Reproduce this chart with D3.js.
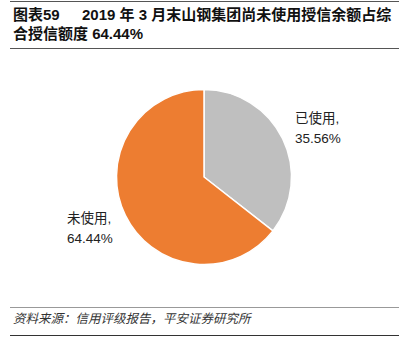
<!DOCTYPE html>
<html>
<head>
<meta charset="utf-8">
<script src="https://cdn.jsdelivr.net/npm/d3@7"></script>
<style>
  body { margin: 0; background: #fff; }
  text { font-family: "Liberation Sans", Arial, "Noto Sans CJK SC", sans-serif; }
</style>
</head>
<body>
<svg id="chart" width="417" height="353"></svg>
<script>
// data
var categories = ['已使用', '未使用'];
var shares = [35.56, 64.44];
var colors = ['#BFBFBF', '#ED7D31'];

var titleLine1 = ['图表59', '2019 年 3 月末山钢集团尚未使用授信余额占综'];
var titleLine2 = '合授信额度 64.44%';
var source = '资料来源：信用评级报告，平安证券研究所';

var svg = d3.select('#chart');

// header rules + title
svg.append('line').attr('x1', 10).attr('x2', 399).attr('y1', 1.5).attr('y2', 1.5)
    .attr('stroke', '#555').attr('stroke-width', 1);
svg.append('line').attr('x1', 10).attr('x2', 399).attr('y1', 48.5).attr('y2', 48.5)
    .attr('stroke', '#555').attr('stroke-width', 1);

var t1 = svg.append('text').attr('y', 20).attr('font-size', 15).attr('font-weight', 'bold').attr('fill', '#111');
t1.append('tspan').attr('x', 13).text(titleLine1[0]);
t1.append('tspan').attr('x', 82).text(titleLine1[1]);
svg.append('text').attr('x', 13).attr('y', 38.5).attr('font-size', 15).attr('font-weight', 'bold')
    .attr('fill', '#111').text(titleLine2);

// pie
var cx = 204, cy = 177, radius = 87.5;
var pie = d3.pie().sort(null).value(function(d) { return d; });
var arc = d3.arc().innerRadius(0).outerRadius(radius);
var arcs = pie(shares);

var g = svg.append('g').attr('transform', 'translate(' + cx + ',' + cy + ')');
g.selectAll('path.slice')
    .data(arcs)
    .enter()
    .append('path')
    .attr('class', 'slice')
    .attr('d', arc)
    .attr('fill', function(d, i) { return colors[i]; })
    .attr('stroke', '#fff')
    .attr('stroke-width', 1.5);

// labels: placed outside the slice, to the side
var labelPos = [{x: 295, y: 123, anchor: 'start'}, {x: 67, y: 223, anchor: 'start'}];
arcs.forEach(function(d, i) {
    var txt = svg.append('text')
        .attr('font-size', 13.5)
        .attr('fill', '#222')
        .attr('text-anchor', labelPos[i].anchor);
    txt.append('tspan').attr('x', labelPos[i].x).attr('y', labelPos[i].y).text(categories[i] + ',');
    txt.append('tspan').attr('x', labelPos[i].x).attr('y', labelPos[i].y + 19.5)
        .text(d3.format('.2f')(shares[i]) + '%');
});

// footer
svg.append('line').attr('x1', 10).attr('x2', 399).attr('y1', 307.5).attr('y2', 307.5)
    .attr('stroke', '#999').attr('stroke-width', 1);
svg.append('line').attr('x1', 10).attr('x2', 399).attr('y1', 335.5).attr('y2', 335.5)
    .attr('stroke', '#333').attr('stroke-width', 1);
svg.append('text').attr('x', 13).attr('y', 323).attr('font-size', 12.5)
    .attr('font-style', 'italic').attr('fill', '#333').text(source);
</script>
</body>
</html>
